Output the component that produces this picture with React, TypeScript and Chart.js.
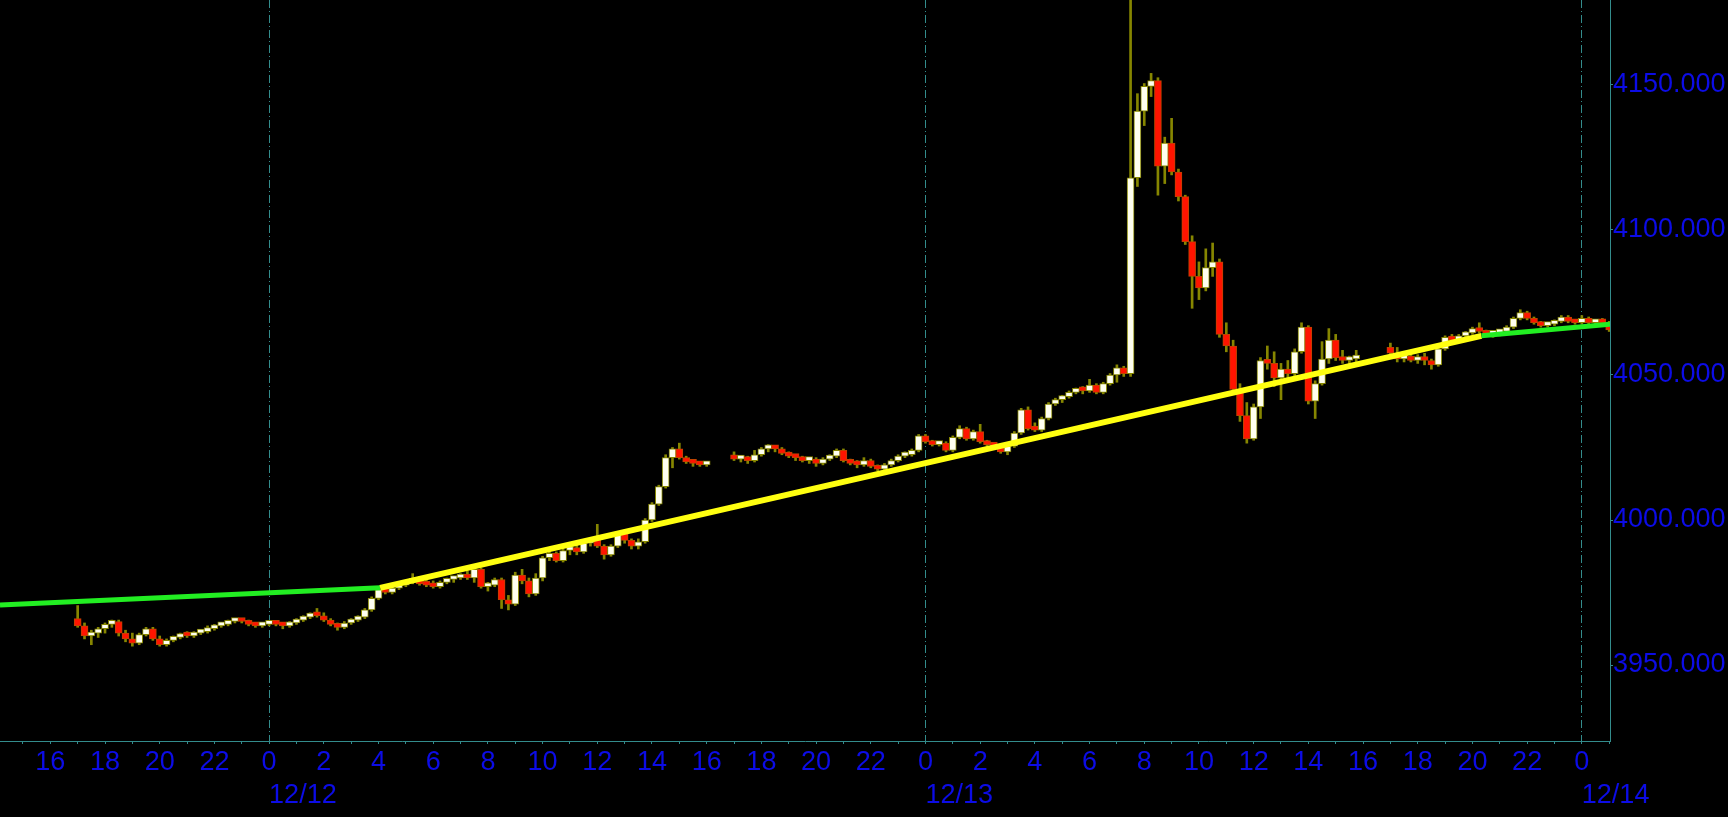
import { useEffect, useRef } from "react";
import { Chart, registerables } from "chart.js";

Chart.register(...registerables);

// hours are counted from 12/12 00:00, one candle = 15 min
const SESSION_STARTS = [-7, 17, 41];
const BAR_STEP = 0.25;

// [open, high, low, close]
const SESSION_1: number[][] = [
  [3966, 3970.5, 3963, 3963.5], [3963.5, 3964.5, 3959, 3960], [3960, 3962, 3957, 3961], [3961, 3963, 3959.5, 3962.5],
  [3962.5, 3964.5, 3961, 3964], [3964, 3965.5, 3963, 3965], [3965, 3965.5, 3960, 3961], [3961, 3962, 3958, 3959],
  [3959, 3961, 3956.5, 3957.5], [3957.5, 3961, 3957, 3960.5], [3960.5, 3963, 3960, 3962.5], [3962.5, 3963, 3958.5, 3959],
  [3959, 3960, 3956.5, 3957], [3957, 3959, 3956.5, 3958.5], [3958.5, 3960, 3958, 3959.5], [3959.5, 3961, 3959, 3960.5],
  [3960.5, 3961.5, 3959.5, 3960], [3960, 3961.5, 3959.5, 3961], [3961, 3962, 3960.5, 3961.5], [3961.5, 3963.5, 3961, 3962.5],
  [3962.5, 3964, 3962, 3963.5], [3963.5, 3964.5, 3963, 3964], [3964, 3965.5, 3963.5, 3965], [3965, 3966, 3964.5, 3965.5],
  [3965.5, 3966, 3964.5, 3965], [3965, 3965.5, 3963.5, 3964], [3964, 3964.5, 3963, 3963.5], [3963.5, 3964.5, 3963, 3964],
  [3964, 3965, 3963.5, 3964.5], [3964.5, 3965, 3963.5, 3964], [3964, 3964.5, 3962.5, 3963.5], [3963.5, 3965, 3963, 3964.5],
  [3964.5, 3966, 3964, 3965.5], [3965.5, 3967, 3965, 3966.5], [3966.5, 3968, 3966, 3967.5], [3967.5, 3969.5, 3966.5, 3967],
  [3967, 3968, 3965, 3965.5], [3965.5, 3966, 3963.5, 3964], [3964, 3964.5, 3962, 3963], [3963, 3965, 3962.5, 3964.5],
  [3964.5, 3966, 3964, 3965.5], [3965.5, 3967, 3965, 3966.5], [3966.5, 3969.5, 3966, 3969], [3969, 3973.5, 3968.5, 3973],
  [3973, 3976.5, 3972.5, 3976], [3976, 3977, 3974.5, 3975], [3975, 3977, 3974.5, 3976.5], [3976.5, 3978, 3976, 3977.5],
  [3977.5, 3979, 3977, 3978.5], [3978.5, 3981.5, 3978, 3979.5], [3979.5, 3980.5, 3977.5, 3978], [3978, 3979.5, 3977, 3977.5],
  [3977.5, 3979, 3976.5, 3977], [3977, 3979, 3976.5, 3978.5], [3978.5, 3980, 3978, 3979.5], [3979.5, 3980.5, 3978.5, 3980],
  [3980, 3981.5, 3979.5, 3981], [3981, 3982.5, 3979.5, 3980], [3980, 3983.5, 3978.5, 3983], [3983, 3983.5, 3976.5, 3977],
  [3977, 3978.5, 3975.5, 3977.5], [3977.5, 3980, 3977, 3979.5], [3979.5, 3980, 3969.5, 3972.5], [3972.5, 3974, 3969, 3971],
  [3971, 3982, 3970.5, 3981], [3981, 3983, 3978, 3979], [3979, 3980, 3973.5, 3974.5], [3974.5, 3981.5, 3974, 3980],
  [3980, 3987.5, 3979, 3987], [3987, 3989.5, 3986, 3988.5], [3988.5, 3989, 3985.5, 3986], [3986, 3990, 3985.5, 3989.5],
  [3989.5, 3991, 3988, 3990.5], [3990.5, 3992, 3988, 3989], [3989, 3992.5, 3988.5, 3992], [3992, 3993.5, 3991, 3993],
  [3993, 3998.5, 3990.5, 3991], [3991, 3991.5, 3986.5, 3988], [3988, 3991.5, 3987.5, 3991], [3991, 3996, 3990.5, 3995.5],
  [3995.5, 3996, 3992, 3993], [3993, 3993.5, 3990, 3991], [3991, 3993.5, 3990, 3992.5], [3992.5, 4000.5, 3992, 4000],
  [4000, 4006, 3999.5, 4005.5], [4005.5, 4012, 4005, 4011.5], [4011.5, 4022.5, 4011, 4021.5], [4021.5, 4025, 4018, 4024.5],
  [4024.5, 4026.5, 4021, 4021.5], [4021.5, 4022, 4019.5, 4020], [4020, 4020.5, 4018.5, 4019.5], [4019.5, 4020, 4018.5, 4019],
  [4019, 4020, 4018.5, 4019.5],
];

const SESSION_2: number[][] = [
  [4022.5, 4023.5, 4020.5, 4021], [4021, 4022, 4020, 4021.5], [4021.5, 4022, 4019.5, 4020.5], [4020.5, 4024, 4020, 4022.5],
  [4022.5, 4025, 4022, 4024.5], [4024.5, 4026, 4023.5, 4025], [4025, 4025.5, 4023.5, 4024.5], [4024.5, 4025, 4022.5, 4023],
  [4023, 4023.5, 4021.5, 4022], [4022, 4022.5, 4020.5, 4021.5], [4021.5, 4022, 4020, 4020.5], [4020.5, 4021.5, 4019.5, 4021],
  [4021, 4021.5, 4018.5, 4019.5], [4019.5, 4021.5, 4019, 4021], [4021, 4022.5, 4020.5, 4022], [4022, 4024.5, 4021.5, 4024],
  [4024, 4024.5, 4020, 4020.5], [4020.5, 4021, 4019, 4019.5], [4019.5, 4020.5, 4018, 4019], [4019, 4021.5, 4018.5, 4020.5],
  [4020.5, 4021, 4018, 4018.5], [4018.5, 4019, 4017, 4017.5], [4017.5, 4019.5, 4017, 4019], [4019, 4021, 4018.5, 4020.5],
  [4020.5, 4022.5, 4020, 4022], [4022, 4023.5, 4021.5, 4022.5], [4022.5, 4024.5, 4022, 4024], [4024, 4029.5, 4023.5, 4029],
  [4029, 4029.5, 4026.5, 4027], [4027, 4027.5, 4025.5, 4026], [4026, 4027, 4025.5, 4026.5], [4026.5, 4027, 4023.5, 4024],
  [4024, 4029, 4023.5, 4028.5], [4028.5, 4032.5, 4028, 4031.5], [4031.5, 4032, 4027.5, 4028], [4028, 4031, 4027.5, 4030.5],
  [4030.5, 4033, 4026.5, 4027], [4027, 4027.5, 4025.5, 4026], [4026, 4026.5, 4024.5, 4025.5], [4025.5, 4026, 4023, 4023.5],
  [4023.5, 4026, 4022.5, 4025.5], [4025.5, 4030.5, 4025, 4030], [4030, 4038.5, 4029.5, 4038], [4038, 4039, 4031, 4031.5],
  [4031.5, 4033.5, 4030.5, 4031], [4031, 4035.5, 4030.5, 4035], [4035, 4040.5, 4034.5, 4040], [4040, 4042, 4039.5, 4041.5],
  [4041.5, 4043, 4040.5, 4042.5], [4042.5, 4044.5, 4042, 4044], [4044, 4045.5, 4043.5, 4045], [4045, 4046, 4043.5, 4044.5],
  [4044.5, 4048.5, 4044, 4046.5], [4046.5, 4047, 4043.5, 4044], [4044, 4047.5, 4043.5, 4047], [4047, 4050.5, 4046.5, 4050],
  [4050, 4053.5, 4047.5, 4052.5], [4052.5, 4053, 4049.5, 4050.5], [4050.5, 4185, 4049.5, 4118], [4118, 4147, 4115, 4141],
  [4141, 4150.5, 4136, 4149.5], [4149.5, 4154, 4146, 4151.5], [4151.5, 4152.5, 4112, 4122], [4122, 4132, 4116, 4130],
  [4130, 4138.5, 4119, 4120], [4120, 4121, 4110, 4111.5], [4111.5, 4112, 4095, 4096], [4096, 4098, 4073, 4084],
  [4084, 4089, 4076, 4080], [4080, 4093.5, 4079, 4087], [4087, 4095.5, 4084, 4089], [4089, 4090, 4063, 4064],
  [4064, 4068, 4058, 4060], [4060, 4062, 4043.5, 4045], [4045, 4047, 4034, 4036], [4036, 4040.5, 4026.5, 4028],
  [4028, 4040, 4027.5, 4039], [4039, 4056, 4035, 4055], [4055, 4060, 4052, 4054], [4054, 4058, 4046, 4049],
  [4049, 4054, 4041.5, 4052], [4052, 4055, 4049, 4050.5], [4050.5, 4059, 4049.5, 4058], [4058, 4068, 4057.5, 4066.5],
  [4066.5, 4067, 4040, 4041], [4041, 4048, 4035, 4047], [4047, 4061.5, 4046.5, 4055.5], [4055.5, 4066, 4054, 4062],
  [4062, 4064, 4055, 4056], [4056, 4058.5, 4054, 4055], [4055, 4056.5, 4053.5, 4055.5], [4055.5, 4058.5, 4054.5, 4056],
];

const SESSION_3: number[][] = [
  [4059.5, 4061, 4057, 4057.5], [4057.5, 4059.5, 4054.5, 4055.5], [4055.5, 4057, 4054.5, 4056.5], [4056.5, 4057, 4054.5, 4055],
  [4055, 4057, 4054, 4055.5], [4055.5, 4057.5, 4053.5, 4055], [4055, 4055.5, 4052, 4053.5], [4053.5, 4059.5, 4053, 4059],
  [4059, 4063.5, 4058.5, 4063], [4063, 4064, 4061.5, 4062], [4062, 4064, 4061.5, 4063.5], [4063.5, 4065, 4063, 4064.5],
  [4064.5, 4066.5, 4064, 4066], [4066, 4068, 4064.5, 4065], [4065, 4065.5, 4063.5, 4064], [4064, 4065, 4063, 4064.5],
  [4064.5, 4065.5, 4063.5, 4065], [4065, 4067, 4064.5, 4066.5], [4066.5, 4070, 4066, 4069.5], [4069.5, 4072.5, 4069, 4071.5],
  [4071.5, 4072, 4069, 4069.5], [4069.5, 4070, 4067.5, 4068], [4068, 4068.5, 4066.5, 4067], [4067, 4068, 4066.5, 4067.5],
  [4067.5, 4069, 4067, 4068.5], [4068.5, 4070.5, 4068, 4070], [4070, 4070.5, 4068, 4068.5], [4068.5, 4069, 4067.5, 4068],
  [4068, 4070.5, 4067.5, 4069.5], [4069.5, 4070, 4067.5, 4068], [4068, 4069, 4067.5, 4068.5], [4068.5, 4069.5, 4067.5, 4068],
  [4068, 4068.5, 4065, 4065.5],
];

// trend line knots: green, yellow, green
const TREND_TIMES = [-9.84, 4.06, 44.33, 49.03];
const TREND_VALUES = [3970.7, 3976.6, 4063.5, 4067.5];

const PRICE_TICKS = [3950, 4000, 4050, 4100, 4150];
const DAY_TICKS = [0, 24, 48];
const DAY_LABELS = ["12/12", "12/13", "12/14"];

const X_MIN = -9.84;
const X_MAX = 49.03;
const Y_MIN = 3923.8;
const Y_MAX = 4179.3;

const TEAL = "#338c8c";
const BLUE = "#0c0ce6";
const OLIVE = "#868600";
const GREEN = "#22ee22";
const YELLOW = "#ffff10";
const FONT = { family: "'Liberation Sans', Arial, sans-serif", size: 27 };

const candles = [SESSION_1, SESSION_2, SESSION_3].flatMap((rows, s) =>
  rows.map(([o, h, l, c], i) => ({ t: SESSION_STARTS[s] + i * BAR_STEP, o, h, l, c }))
);

const hourTicks: number[] = [];
for (let h = Math.ceil(X_MIN); h <= Math.floor(X_MAX); h++) hourTicks.push(h);

// scales add half a label of padding around the plot, the reference has none
const noPadding = (scale: any) => {
  scale.paddingTop = 0;
  scale.paddingBottom = 0;
  scale.paddingLeft = 0;
  scale.paddingRight = 0;
};

export default function App() {
  const canvasRef = useRef<HTMLCanvasElement | null>(null);

  useEffect(() => {
    document.body.style.margin = "0";
    document.body.style.background = "#000";
    if (!canvasRef.current) return;

    const chart = new Chart(canvasRef.current, {
      type: "bar",
      data: {
        datasets: [
          {
            type: "line",
            label: "trend",
            data: TREND_TIMES.map((x, i) => ({ x, y: TREND_VALUES[i] })),
            borderColor: GREEN,
            borderWidth: 5,
            borderCapStyle: "butt",
            pointRadius: 0,
            segment: {
              borderColor: (ctx: any) => (ctx.p0DataIndex === 1 ? YELLOW : GREEN),
              borderWidth: (ctx: any) => (ctx.p0DataIndex === 1 ? 6 : 5),
            },
            xAxisID: "x",
            yAxisID: "y",
            order: 0,
          } as any,
          {
            label: "body",
            data: candles.map(k => ({ x: k.t, y: [k.o, k.c] })),
            backgroundColor: candles.map(k => (k.c >= k.o ? "#fffff0" : "#ff1400")),
            borderColor: candles.map(k => (k.c >= k.o ? OLIVE : "#c04400")),
            borderWidth: 1,
            borderSkipped: false,
            barThickness: 7,
            minBarLength: 4,
            grouped: false,
            xAxisID: "x",
            yAxisID: "y",
            order: 1,
          } as any,
          {
            label: "wick",
            data: candles.map(k => ({ x: k.t, y: [k.l, k.h] })),
            backgroundColor: OLIVE,
            borderWidth: 0,
            barThickness: 2,
            grouped: false,
            xAxisID: "x",
            yAxisID: "y",
            order: 2,
          } as any,
        ],
      },
      options: {
        responsive: true,
        maintainAspectRatio: false,
        animation: false,
        layout: { padding: 0, autoPadding: false },
        scales: {
          x: {
            type: "linear",
            position: "bottom",
            min: X_MIN,
            max: X_MAX,
            offset: false,
            afterBuildTicks: (scale: any) => {
              scale.ticks = hourTicks.map(value => ({ value }));
            },
            afterFit: (scale: any) => {
              scale.height = 38;
              noPadding(scale);
            },
            grid: { offset: false, drawOnChartArea: false, drawTicks: true, tickLength: 3, color: TEAL, tickColor: TEAL },
            border: { display: true, color: TEAL, width: 1 },
            ticks: {
              autoSkip: false,
              maxRotation: 0,
              minRotation: 0,
              padding: 2,
              color: BLUE,
              font: FONT,
              callback: (value: any) => {
                const h = Number(value);
                return h % 2 === 0 ? String(((h % 24) + 24) % 24) : "";
              },
            },
          },
          x2: {
            type: "linear",
            position: "bottom",
            min: X_MIN,
            max: X_MAX,
            offset: false,
            afterBuildTicks: (scale: any) => {
              scale.ticks = DAY_TICKS.map(value => ({ value }));
            },
            afterFit: (scale: any) => {
              scale.height = 38;
              noPadding(scale);
            },
            grid: { offset: false, drawOnChartArea: true, drawTicks: false, color: TEAL, lineWidth: 1 },
            border: { display: false, dash: [8, 3, 1, 3] },
            ticks: {
              autoSkip: false,
              maxRotation: 0,
              minRotation: 0,
              align: "start",
              padding: 0,
              color: BLUE,
              font: FONT,
              callback: (_value: any, index: number) => DAY_LABELS[index],
            },
          },
          y: {
            type: "linear",
            position: "right",
            min: Y_MIN,
            max: Y_MAX,
            afterBuildTicks: (scale: any) => {
              scale.ticks = PRICE_TICKS.map(value => ({ value }));
            },
            afterFit: (scale: any) => {
              scale.width = 118;
              noPadding(scale);
            },
            grid: { drawOnChartArea: false, drawTicks: true, tickLength: 3, color: TEAL, tickColor: TEAL },
            border: { display: true, color: TEAL, width: 1 },
            ticks: {
              padding: 0,
              color: BLUE,
              font: FONT,
              callback: (value: any) => Number(value).toFixed(3),
            },
          },
        },
        plugins: {
          legend: { display: false },
          tooltip: { enabled: false },
        },
      } as any,
    });

    return () => {
      chart.destroy();
    };
  }, []);

  return (
    <div style={{ position: "relative", width: 1728, height: 817, background: "#000" }}>
      <canvas ref={canvasRef} />
    </div>
  );
}
